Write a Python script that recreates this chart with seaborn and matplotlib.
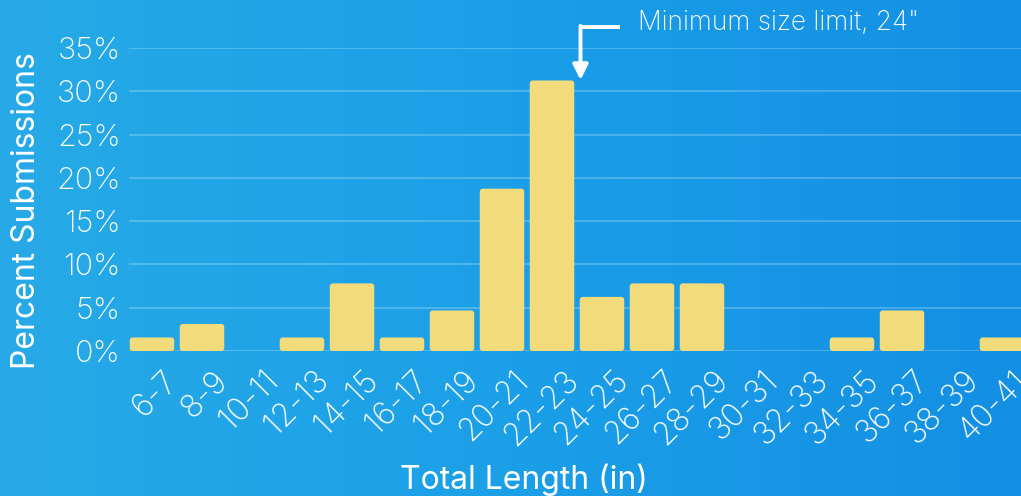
import numpy as np
import pandas as pd
import seaborn as sns
import matplotlib.pyplot as plt
from matplotlib.colors import LinearSegmentedColormap
from matplotlib.patches import FancyBboxPatch
from matplotlib.transforms import ScaledTranslation

# length bins (in) and share of submissions (%)
bins = ["6-7", "8-9", "10-11", "12-13", "14-15", "16-17", "18-19", "20-21", "22-23",
        "24-25", "26-27", "28-29", "30-31", "32-33", "34-35", "36-37", "38-39", "40-41"]
percent = [1.5625, 3.125, 0, 1.5625, 7.8125, 1.5625, 4.6875, 18.75, 31.25,
           6.25, 7.8125, 7.8125, 0, 0, 1.5625, 4.6875, 0, 1.5625]
y_ticks = [0, 5, 10, 15, 20, 25, 30, 35]
note = 'Minimum size limit, 24"'

df = pd.DataFrame({"bin": bins, "percent": percent})

sns.set_style("white")
plt.rcParams["font.family"] = ["Inter", "DejaVu Sans"]
plt.rcParams["font.weight"] = "light"

fig = plt.figure(figsize=(10.21, 4.96), dpi=100)

# blue gradient background
bg = fig.add_axes([0, 0, 1, 1], zorder=-10)
cmap = LinearSegmentedColormap.from_list("bg", ["#27aae6", "#1b9fe8", "#138fe3"])
grad = np.linspace(0, 1, 256).reshape(1, -1)
bg.imshow(grad, aspect="auto", cmap=cmap, extent=[0, 1, 0, 1])
bg.axis("off")

ax = fig.add_axes([129 / 1021, 1 - 351 / 496, 1 - 129 / 1021, 303 / 496])
ax.patch.set_alpha(0)
sns.barplot(data=df, x="bin", y="percent", color="#f2db7b", saturation=1,
            width=0.89, linewidth=0, ax=ax, zorder=3)

# slightly rounded bar corners
for p in list(ax.patches):
    if p.get_height() <= 0:
        continue
    rb = FancyBboxPatch((p.get_x(), p.get_y()), p.get_width(), p.get_height(),
                        boxstyle="round,pad=0,rounding_size=0.06",
                        mutation_aspect=5.8, facecolor=p.get_facecolor(),
                        edgecolor="none", zorder=3)
    p.set_visible(False)
    ax.add_patch(rb)

ax.set_xlim(-0.46, 17.38)
ax.set_ylim(0, 35)
ax.set_yticks(y_ticks)
ax.set_yticklabels([f"{t}%" for t in y_ticks])
ax.grid(axis="y", color="white", alpha=0.22, linewidth=1.5, zorder=0)
ax.tick_params(axis="both", length=0, labelcolor="white")
ax.tick_params(axis="y", pad=6, labelsize=22)
ax.tick_params(axis="x", pad=10, labelsize=23, labelrotation=45)
shift = ScaledTranslation(0.11, 0, fig.dpi_scale_trans)
for lab in ax.get_xticklabels():
    lab.set_ha("right")
    lab.set_rotation_mode("anchor")
    lab.set_transform(lab.get_transform() + shift)
for s in ax.spines.values():
    s.set_visible(False)

ax.set_xlabel("Total Length (in)", color="white", fontsize=23)
ax.set_ylabel("Percent Submissions", color="white", fontsize=23)
ax.xaxis.set_label_coords(0.443, -0.372)
ax.yaxis.set_label_coords(-0.097, 0.465)

# arrow pointing at the 24" limit
ax.plot([9.36, 8.57], [37.4, 37.4], color="white", lw=2.8, clip_on=False,
        solid_capstyle="butt", zorder=5)
ax.annotate("", xy=(8.57, 31.3), xytext=(8.57, 37.55), annotation_clip=False,
            arrowprops=dict(arrowstyle="-|>,head_length=0.9,head_width=0.45",
                            color="white", lw=2.8, shrinkA=0, shrinkB=0))
ax.text(9.72, 37.9, note, color="white", fontsize=19, va="center",
        ha="left", clip_on=False)

fig.savefig("out.png", dpi=100)
